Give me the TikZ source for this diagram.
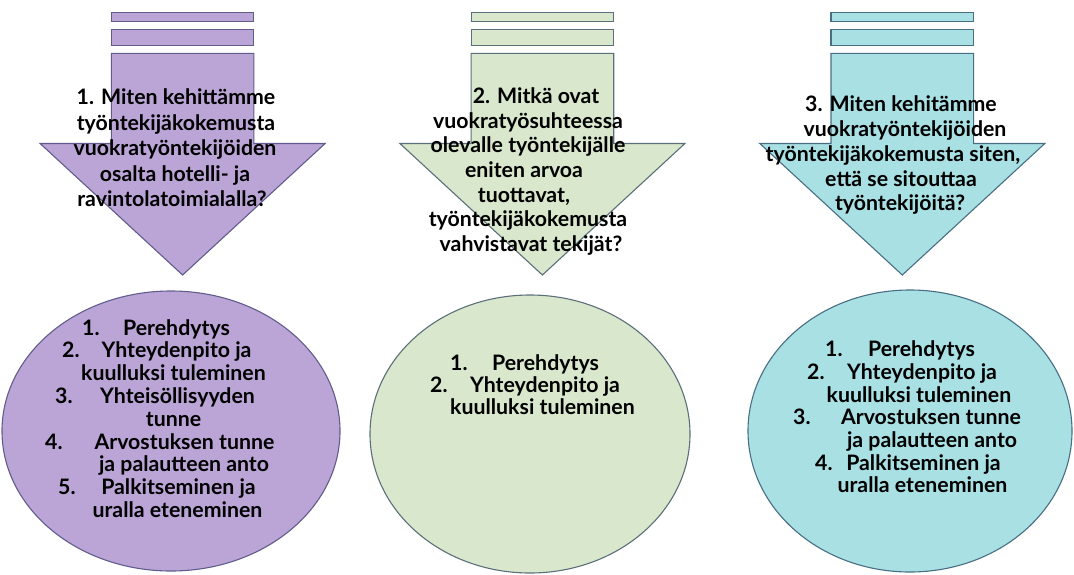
\documentclass[tikz,border=0pt]{standalone}
\usepackage{fontspec}
% heavy humanist sans for all labels
\IfFontExistsTF{Lato Bold}{\newfontfamily\heavylato{Lato Bold}}{%
  \IfFontExistsTF{Lato-Bold}{\newfontfamily\heavylato{Lato-Bold}}{%
    \IfFontExistsTF{Lato Heavy}{\newfontfamily\heavylato{Lato Heavy}}{%
      \newfontfamily\heavylato{Lato}[FakeBold=2.4]}}}
\definecolor{purplefill}{RGB}{187,165,215}
\definecolor{purpleline}{RGB}{96,92,140}
\definecolor{greenfill}{RGB}{217,232,204}
\definecolor{greenline}{RGB}{92,110,122}
\definecolor{cyanfill}{RGB}{168,224,228}
\definecolor{cyanline}{RGB}{72,110,132}
% stacked bars + block arrow, centred on x = #1
\newcommand\colarrow[3]{%
  \draw[shapeline, fill=#2, draw=#3] (#1-71.3,12.7) rectangle (#1+71.3,21.7);
  \draw[shapeline, fill=#2, draw=#3] (#1-71.3,29.3) rectangle (#1+71.3,45.7);
  \draw[shapeline, fill=#2, draw=#3]
    (#1-71.3,53.3) -- (#1+71.3,53.3) -- (#1+71.3,143.5) -- (#1+142.5,143.5)
    -- (#1,275) -- (#1-142.5,143.5) -- (#1-71.3,143.5) -- cycle;
}
\begin{document}
\begin{tikzpicture}[x=1pt,y=-1pt,
  shapeline/.style={line width=1.1pt, line join=miter},
  qtext/.style={font=\heavylato\fontsize{21.3}{22}\selectfont, anchor=base, inner sep=0pt},
  ltext/.style={font=\heavylato\fontsize{21.3}{21}\selectfont, anchor=base, inner sep=0pt},
  ntext/.style={font=\heavylato\fontsize{21.3}{21}\selectfont, anchor=base west, inner sep=0pt}]
\useasboundingbox (0,0) rectangle (1074,574);

% arrows
\colarrow{182.6}{purplefill}{purpleline}
\colarrow{542.4}{greenfill}{greenline}
\colarrow{902.3}{cyanfill}{cyanline}

% ellipses
\draw[shapeline, fill=purplefill, draw=purpleline] (171,431) ellipse [x radius=169, y radius=140];
\draw[shapeline, fill=greenfill, draw=greenline] (530,434) ellipse [x radius=160, y radius=139];
\draw[shapeline, fill=cyanfill, draw=cyanline] (910,431) ellipse [x radius=162, y radius=141];

% questions
\node[qtext] (q1a) at (176,104.5) {1. Miten kehittämme};
\node[qtext] (q1b) at (176,130.1) {työntekijäkokemusta};
\node[qtext] (q1c) at (175,155.7) {vuokratyöntekijöiden};
\node[qtext] (q1d) at (175,181.3) {osalta hotelli- ja};
\node[qtext] (q1e) at (172,206.9) {ravintolatoimialalla?};

\node[qtext] (q2a) at (536,103.3) {2. Mitkä ovat};
\node[qtext] (q2b) at (528,128.0) {vuokratyösuhteessa};
\node[qtext] (q2c) at (528,152.7) {olevalle työntekijälle};
\node[qtext] (q2d) at (524,177.4) {eniten arvoa};
\node[qtext] (q2e) at (524,202.1) {tuottavat,};
\node[qtext] (q2f) at (528,226.8) {työntekijäkokemusta};
\node[qtext] (q2g) at (531,251.5) {vahvistavat tekijät?};

\node[qtext] (q3a) at (901,111.7) {3. Miten kehitämme};
\node[qtext] (q3b) at (905,136.7) {vuokratyöntekijöiden};
\node[qtext] (q3c) at (893,161.7) {työntekijäkokemusta siten,};
\node[qtext] (q3d) at (901,186.7) {että se sitouttaa};
\node[qtext] (q3e) at (900,210.7) {työntekijöitä?};

% lists, first column
\node[ltext] (a1) at (176.5,335.0) {Perehdytys};
\node[ltext] (a2) at (176.5,357.8) {Yhteydenpito ja};
\node[ltext] (a2b) at (173.5,380.6) {kuulluksi tuleminen};
\node[ltext] (a3) at (177.5,403.4) {Yhteisöllisyyden};
\node[ltext] (a3b) at (173.5,426.2) {tunne};
\node[ltext] (a4) at (184.5,449.0) {Arvostuksen tunne};
\node[ltext] (a4b) at (184.0,471.8) {ja palautteen anto};
\node[ltext] (a5) at (178.5,494.6) {Palkitseminen ja};
\node[ltext] (a5b) at (177.5,517.4) {uralla eteneminen};
\node[ntext] (na1) at (82,335.0) {1.};
\node[ntext] (na2) at (62,357.8) {2.};
\node[ntext] (na3) at (55,403.4) {3.};
\node[ntext] (na4) at (45,449.0) {4.};
\node[ntext] (na5) at (58,494.6) {5.};

% lists, second column
\node[ltext] (b1) at (545.5,370.0) {Perehdytys};
\node[ltext] (b2) at (545.0,392.3) {Yhteydenpito ja};
\node[ltext] (b2b) at (542.5,414.6) {kuulluksi tuleminen};
\node[ntext] (nb1) at (450,370.0) {1.};
\node[ntext] (nb2) at (430,392.3) {2.};

% lists, third column
\node[ltext] (c1) at (921.5,356.7) {Perehdytys};
\node[ltext] (c2) at (922.0,379.4) {Yhteydenpito ja};
\node[ltext] (c2b) at (919.0,402.1) {kuulluksi tuleminen};
\node[ltext] (c3) at (931.0,424.8) {Arvostuksen tunne};
\node[ltext] (c3b) at (932.0,447.5) {ja palautteen anto};
\node[ltext] (c4) at (923.5,470.2) {Palkitseminen ja};
\node[ltext] (c4b) at (922.5,492.9) {uralla eteneminen};
\node[ntext] (nc1) at (825,356.7) {1.};
\node[ntext] (nc2) at (807,379.4) {2.};
\node[ntext] (nc3) at (793,424.8) {3.};
\node[ntext] (nc4) at (815,470.2) {4.};
\end{tikzpicture}
\end{document}
